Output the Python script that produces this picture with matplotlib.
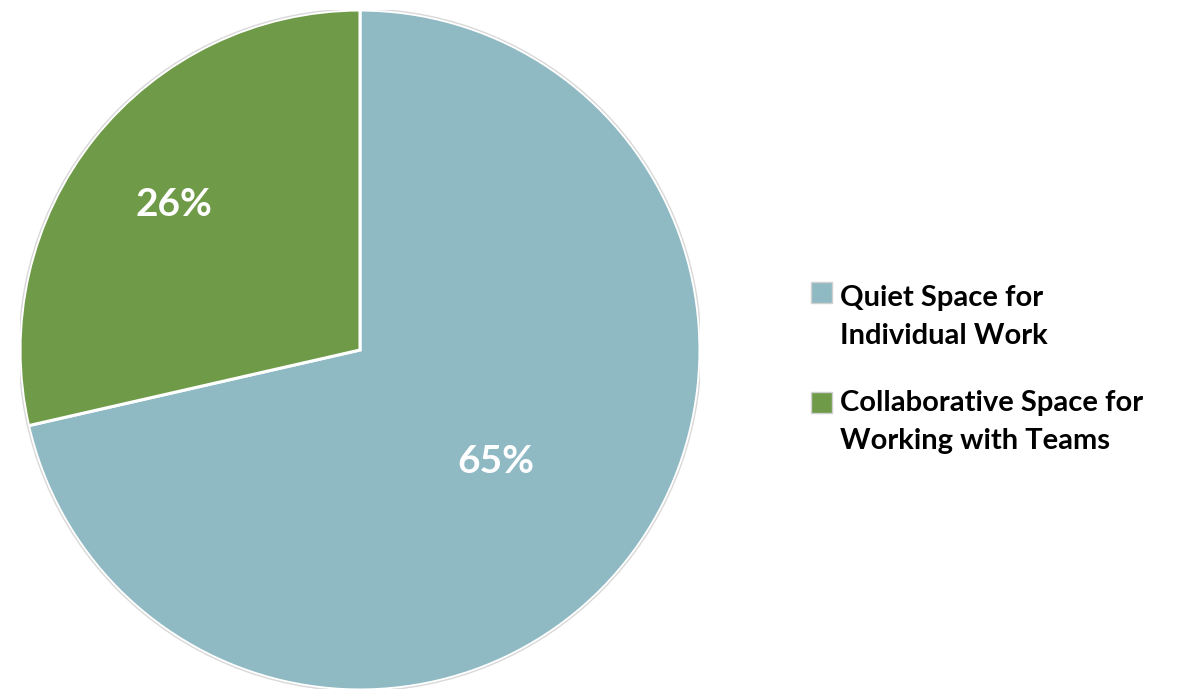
import numpy as np
import matplotlib.pyplot as plt
from matplotlib.patches import Circle, Rectangle

labels = ["Quiet Space for\nIndividual Work", "Collaborative Space for\nWorking with Teams"]
values = [65, 26]
colors = ["#8FBAC3", "#6F9A48"]
label_radius = [0.51, 0.70]

plt.rcParams['font.family'] = ['Lato', 'DejaVu Sans']

W, H = 1191, 689
fig = plt.figure(figsize=(W/100, H/100), dpi=100)
ax = fig.add_axes([20/W, (H-690)/H, 680/W, 680/H])
wedges, _ = ax.pie(values, colors=colors, startangle=90, counterclock=False,
                   wedgeprops=dict(edgecolor='white', linewidth=2.2), radius=1.0)
ax.add_patch(Circle((0, 0), 1.003, fill=False, edgecolor='#D9D9D9', linewidth=1.0))
for w, v, r in zip(wedges, values, label_radius):
    mid = np.deg2rad((w.theta1 + w.theta2) / 2)
    ax.text(r*np.cos(mid), r*np.sin(mid), f"{v}%", ha='center', va='center_baseline',
            color='white', fontsize=28, fontweight='bold')
ax.set_xlim(-1.0, 1.0)
ax.set_ylim(-1.0, 1.0)
ax.set_aspect('equal')
ax.axis('off')

# legend (square aligned with first text line, as in the reference)
for i, (lab, col) in enumerate(zip(labels, colors)):
    sq_top = 282 + i*110
    fig.patches.append(Rectangle((811/W, 1-(sq_top+21)/H), 21/W, 21/H,
                                 transform=fig.transFigure, facecolor=col,
                                 edgecolor='#D0D0D0', linewidth=1.0))
    fig.text(840/W, 1-(344 + i*105)/H, lab, ha='left', va='baseline',
             fontsize=21, fontweight='bold', color='black', linespacing=1.57)

fig.savefig('out.png', dpi=100)
